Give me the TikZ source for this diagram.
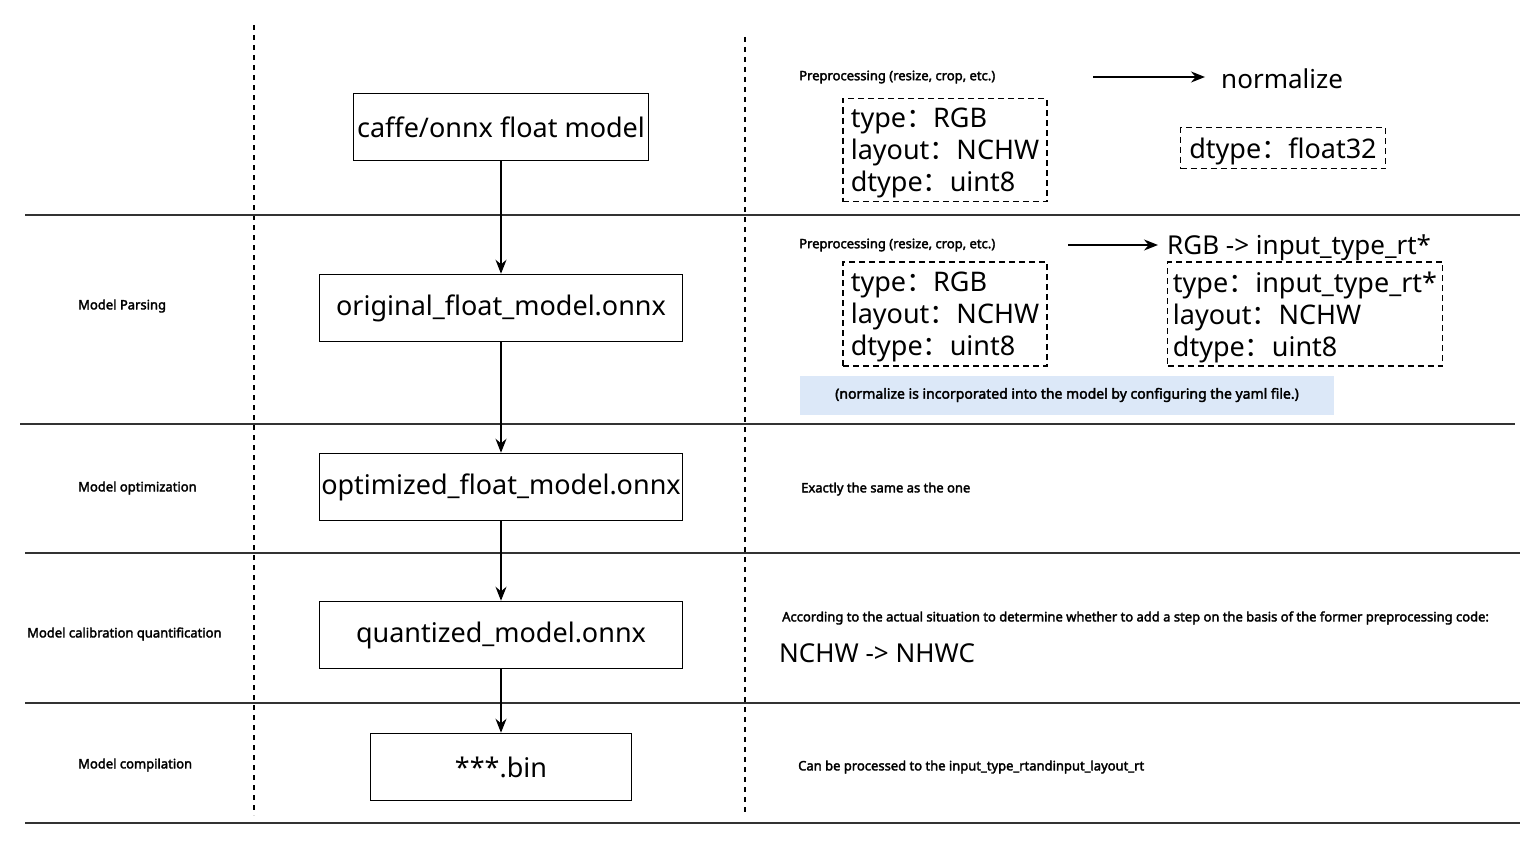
\documentclass[tikz,border=0pt]{standalone}
\usepackage{fontspec}
\setmainfont{Noto Sans}
\newfontfamily\cjk{Noto Sans CJK SC}
\newfontfamily\lblfont[FakeBold=2.5]{Noto Sans}
\usetikzlibrary{positioning, arrows.meta}
\newcommand{\fcol}{{\cjk ：}}
\definecolor{notebg}{HTML}{DCE8F8}
\tikzset{
    stepbox/.style={draw, line width=1.5pt, minimum height=67pt, font=\fontsize{27}{30}\selectfont, inner sep=0pt},
    dbox/.style={draw, dash pattern=on 6pt off 4pt, line width=1.5pt, align=left, inner xsep=1pt, font=\fontsize{27}{32}\selectfont, text depth=0pt},
    small/.style={font=\lblfont\fontsize{13}{15}\selectfont, anchor=west, inner sep=0pt},
    big/.style={font=\fontsize{26}{30}\selectfont, anchor=west, inner sep=0pt},
    flow/.style={-{Stealth[length=14pt, width=11pt]}, line width=1.5pt},
    sep/.style={line width=1.3pt, black!80},
    lane/.style={dash pattern=on 5pt off 5pt, line width=1.3pt}
}
\begin{document}
\begin{tikzpicture}[x=1pt, y=-1pt]
        \useasboundingbox (0,0) rectangle (1539,843);

        % Lanes
        \draw[lane] (254,25) -- (254,815);
        \draw[lane] (745,37) -- (745,815);

        % Separators
        \draw[sep] (25,215) -- (1520,215);
        \draw[sep] (20,424) -- (1515,424);
        \draw[sep] (25,553) -- (1520,553);
        \draw[sep] (25,703) -- (1520,703);
        \draw[sep] (25,823) -- (1520,823);

        % Flow
        \node[stepbox, minimum width=295pt] (caffe) at (501,127) {caffe/onnx float model};
        \node[stepbox, minimum width=363pt] (orig) at (501,308) {original\_float\_model.onnx};
        \node[stepbox, minimum width=363pt] (opt) at (501,487) {optimized\_float\_model.onnx};
        \node[stepbox, minimum width=363pt] (quant) at (501,635) {quantized\_model.onnx};
        \node[stepbox, minimum width=261pt] (bin) at (501,767) {***.bin};

        \draw[flow] (caffe) -- (orig);
        \draw[flow] (orig) -- (opt);
        \draw[flow] (opt) -- (quant);
        \draw[flow] (quant) -- (bin);

        % Stages
        \node[small] (parse) at (78,306) {Model Parsing};
        \node[small] (optim) at (78,488) {Model optimization};
        \node[small] (calib) at (27,634) {Model calibration quantification};
        \node[small] (compile) at (78,765) {Model compilation};

        % Row 1
        \node[small] (pre1) at (799,77) {Preprocessing (resize, crop, etc.)};
        \coordinate (a1) at (1093,77);
        \node[big] (norm) at (1221,79) {normalize};
        \draw[flow] (a1) -- ++(112,0);
        \node[dbox, minimum width=204pt, minimum height=103pt] (in1) at (945,150) {type\fcol RGB\\layout\fcol NCHW\\dtype\fcol uint8};
        \node[dbox, minimum width=205pt, minimum height=41pt] (out1) at (1283,148) {dtype\fcol float32};

        % Row 2
        \node[small] (pre2) at (799,245) {Preprocessing (resize, crop, etc.)};
        \coordinate (a2) at (1068,245);
        \node[big] (rgb) at (1167,248) {RGB -> input\_type\_rt*};
        \draw[flow] (a2) -- ++(90,0);
        \node[dbox, minimum width=204pt, minimum height=104pt] (in2) at (945,314) {type\fcol RGB\\layout\fcol NCHW\\dtype\fcol uint8};
        \node[dbox, minimum width=275pt, minimum height=104pt] (out2) at (1305,314) {type\fcol input\_type\_rt*\\layout\fcol NCHW\\dtype\fcol uint8};
        \node[fill=notebg, minimum width=534pt, minimum height=39pt, font=\lblfont\fontsize{14}{16}\selectfont] (note) at (1067,395) {(normalize is incorporated into the model by configuring the yaml file.)};

        % Row 3
        \node[small] (same) at (801,489) {Exactly the same as the one};

        % Row 4
        \node[small] (judge) at (782,618) {According to the actual situation to determine whether to add a step on the basis of the former preprocessing code:};
        \node[big] (nhwc) at (779,653) {NCHW -> NHWC};

        % Row 5
        \node[small] (proc) at (798,767) {Can be processed to the input\_type\_rtandinput\_layout\_rt};
    \end{tikzpicture}
\end{document}
